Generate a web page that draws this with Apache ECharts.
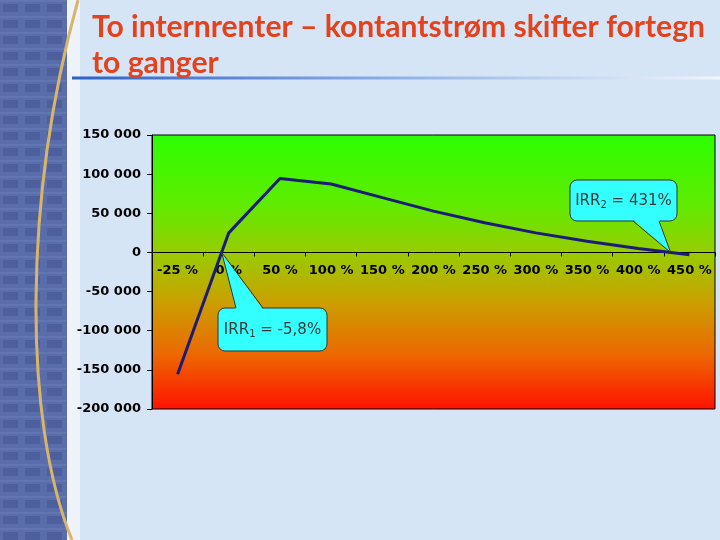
<!DOCTYPE html>
<html><head><meta charset="utf-8">
<script src="https://cdn.jsdelivr.net/npm/echarts/dist/echarts.min.js"></script>
<style>html,body{margin:0;padding:0;background:#D6E5F5}#c{width:720px;height:540px}</style>
</head><body><div id="c"></div>
<script>
// ---- data ----
const categories = ['-25 %','0 %','50 %','100 %','150 %','200 %','250 %','300 %','350 %','400 %','450 %'];
const npvValues = [-155600, 25000, 94400, 87500, 70000, 52800, 37800, 25000, 14200, 5000, -2900];
const yMin = -200000, yMax = 150000, yInterval = 50000;
const titleLine1 = 'To internrenter – kontantstrøm skifter fortegn';
const titleLine2 = 'to ganger';
const irr1Text = { base: 'IRR', sub: '1', rest: ' = -5,8%' };
const irr2Text = { base: 'IRR', sub: '2', rest: ' = 431%' };

function fmt(v){
  const s = String(Math.abs(v)).replace(/\B(?=(\d{3})+(?!\d))/g,' ');
  return (v<0?'-':'') + s;
}

const chart = echarts.init(document.getElementById('c'), null, {renderer:'canvas'});

// window pattern for the left strip
const pc = document.createElement('canvas'); pc.width = 22; pc.height = 16;
const pctx = pc.getContext('2d');
pctx.fillStyle = '#5a6dab'; pctx.fillRect(0,0,22,16);
pctx.fillStyle = '#4d5f9c'; pctx.fillRect(3,4,15,8);
pctx.fillStyle = '#6376b4'; pctx.fillRect(0,0,22,2);

const plotGradient = new echarts.graphic.LinearGradient(0,0,0,1,[
  {offset:0, color:'#2cff00'},
  {offset:0.25, color:'#5fec00'},
  {offset:0.43, color:'#98cc00'},
  {offset:0.6, color:'#c9a200'},
  {offset:0.8, color:'#ec6800'},
  {offset:1, color:'#ff1200'}
]);

const GRID_BOTTOM = 131;
chart.setOption({
  backgroundColor: '#D6E5F5',
  animation: false,
  grid: { left:152, right:5, top:135, bottom:GRID_BOTTOM, show:true, backgroundColor: plotGradient, borderColor:'#000', borderWidth:1, containLabel:false },
  xAxis: {
    type:'category', data: categories, boundaryGap:true, offset:0,
    axisLine:{ onZero:false, lineStyle:{color:'#000', width:1} },
    axisTick:{ show:true, length:4, lineStyle:{color:'#000'} },
    axisLabel:{ interval:0, margin:12, color:'#000', fontFamily:'DejaVu Sans', fontWeight:'bold', fontSize:13 },
    splitLine:{show:false}
  },
  yAxis: {
    type:'value', min:yMin, max:yMax, interval:yInterval,
    axisLine:{ show:true, lineStyle:{color:'#000', width:1} },
    axisTick:{ show:true, length:5, lineStyle:{color:'#000'} },
    axisLabel:{ margin:11, color:'#000', fontFamily:'DejaVu Sans', fontWeight:'bold', fontSize:13, formatter: fmt },
    splitLine:{show:false}
  },
  series: [{
    type:'line', data: npvValues, symbol:'none', smooth:false, z:5,
    lineStyle:{ color:'#1b1b78', width:3 }
  }]
});

// move the whole x axis (line, ticks, labels) onto the zero value
const zeroY = chart.convertToPixel({yAxisIndex:0}, 0);
const bottomY = 540 - GRID_BOTTOM;
chart.setOption({ xAxis: { offset: -(bottomY - zeroY) } });

// ---- decorations and callouts ----
function crossing(fromIdx, toIdx){
  const a = npvValues[fromIdx], b = npvValues[toIdx];
  const f = a/(a-b);
  const pa = chart.convertToPixel({seriesIndex:0}, [fromIdx, a]);
  const pb = chart.convertToPixel({seriesIndex:0}, [toIdx, b]);
  const y0 = chart.convertToPixel({yAxisIndex:0}, 0);
  return [pa[0] + f*(pb[0]-pa[0]), y0];
}
let c1 = null, c2 = null;
for (let i=0;i<npvValues.length-1;i++){
  if ((npvValues[i]<0) !== (npvValues[i+1]<0)) {
    if (!c1) c1 = crossing(i,i+1); else c2 = crossing(i,i+1);
  }
}

function callout(box, tip, txt){
  const fill = '#33ffff', stroke = '#333';
  const els = [];
  els.push({ type:'rect', z:20, shape:{x:box.x, y:box.y, width:box.w, height:box.h, r:7}, style:{fill:fill, stroke:stroke, lineWidth:1} });
  const onTop = tip[1] < box.y;
  const by = onTop ? box.y + 1.5 : box.y + box.h - 1.5;
  els.push({ type:'polygon', z:21, shape:{points:[[box.b0,by],[tip[0],tip[1]],[box.b1,by]]}, style:{fill:fill, stroke:null} });
  const ey = onTop ? box.y : box.y + box.h;
  els.push({ type:'polyline', z:22, shape:{points:[[box.b0,ey],[tip[0],tip[1]],[box.b1,ey]]}, style:{fill:null, stroke:stroke, lineWidth:1} });
  els.push({ type:'text', z:23, x: box.x + box.w/2, y: box.y + box.h/2 + 1,
    style:{ text: '{a|'+txt.base+'}{s|'+txt.sub+'}{a|'+txt.rest+'}', align:'center', verticalAlign:'middle',
      rich:{ a:{fontFamily:'DejaVu Sans', fontSize:15, fill:'#3a3a3a'}, s:{fontFamily:'DejaVu Sans', fontSize:10, fill:'#3a3a3a', padding:[8,0,0,0]} } } });
  return els;
}

// title scaling to mimic the condensed slide font
const mctx = document.createElement('canvas').getContext('2d');
const titleFont = 'bold 30px Lato';
mctx.font = titleFont;
const tw = mctx.measureText(titleLine1).width;
const sx = 613 / tw;

const graphics = [
  { type:'rect', z:-5, silent:true, shape:{x:0,y:0,width:67,height:540}, style:{fill:{image:pc, repeat:'repeat'}} },
  { type:'rect', z:-5, silent:true, shape:{x:67,y:0,width:13,height:540}, style:{fill:'#eef3fa'} },
  { type:'bezierCurve', z:-4, silent:true, shape:{x1:78,y1:0,x2:72,y2:540,cpx1:23,cpy1:200,cpx2:23,cpy2:420}, style:{stroke:'#d9b56a', lineWidth:3, fill:null} },
  { type:'line', z:-4, silent:true, shape:{x1:72,y1:78,x2:720,y2:78}, style:{lineWidth:3, stroke: new echarts.graphic.LinearGradient(0,0,1,0,[{offset:0,color:'#2b5fc8'},{offset:0.5,color:'#8fb0e6'},{offset:1,color:'#f2f6fc'}])} },
  { type:'text', z:10, x:92, y:27, scaleX:sx, style:{ text:titleLine1, font:titleFont, fill:'#e4421c', verticalAlign:'middle', align:'left' } },
  { type:'text', z:10, x:92, y:63, scaleX:sx, style:{ text:titleLine2, font:titleFont, fill:'#e4421c', verticalAlign:'middle', align:'left' } }
];
if (c1) graphics.push(...callout({x:218, y:308, w:109, h:43, b0:236, b1:263}, c1, irr1Text));
if (c2) graphics.push(...callout({x:570, y:180, w:107, h:41, b0:633, b1:659}, c2, irr2Text));

chart.setOption({ graphic: graphics });
</script>
</body></html>
